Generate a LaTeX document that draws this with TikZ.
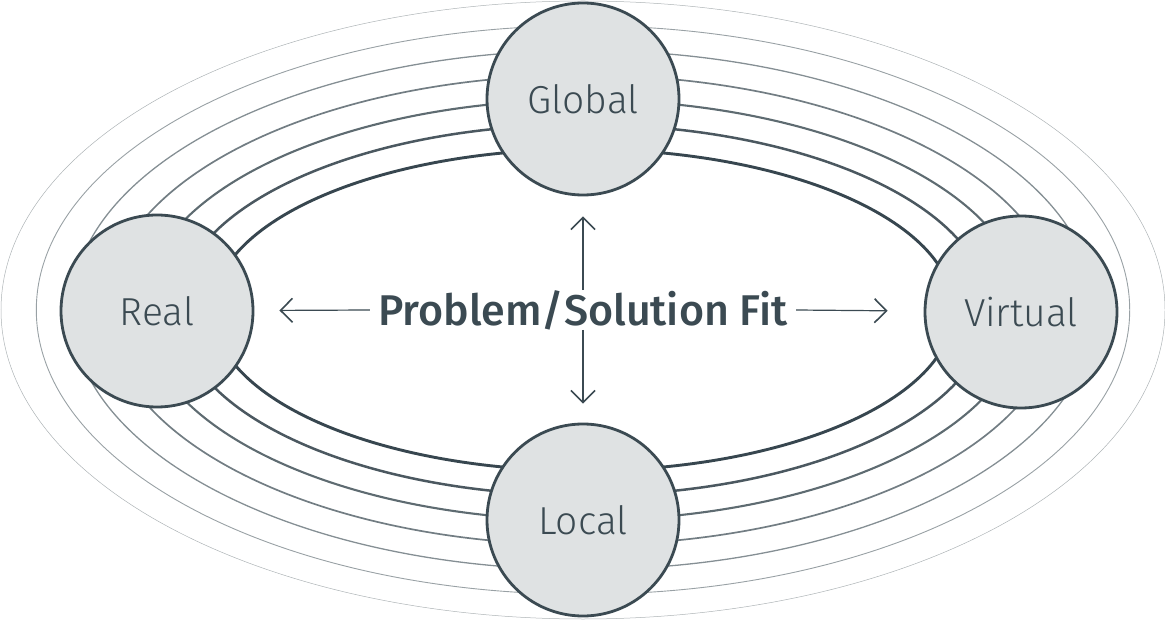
\documentclass[tikz,border=0pt]{standalone}
\usepackage{fontspec}
\setmainfont{Fira Sans}
\newfontfamily\lightfont{Fira Sans Light}
\newfontfamily\mediumfont{Fira Sans Medium}
\usetikzlibrary{arrows.meta}
\definecolor{slate}{HTML}{3B4A52}
\definecolor{disc}{HTML}{DFE2E3}

\begin{document}
\begin{tikzpicture}[x=1pt, y=-1pt,
    place/.style = {draw=slate, fill=disc, circle, line width=2.8pt, minimum size=192pt, inner sep=0pt,
                    text=slate, font=\lightfont\fontsize{39}{41}\selectfont},
    fitarrow/.style = {draw=slate, line width=1.2pt, -{Straight Barb[length=12pt, width=24pt, line width=1.6pt]}}]
\useasboundingbox (0,0) rectangle (1165,620);

% orbits, thin and pale outside, thick and dark inside
\foreach \i in {0,...,6} {
  \pgfmathsetmacro{\pct}{42+10*\i}
  \pgfmathsetmacro{\lw}{0.5+0.4*\i}
  \pgfmathsetmacro{\rx}{582-35.3*\i}
  \pgfmathsetmacro{\ry}{309-24.7*\i}
  \draw[line width=\lw pt, slate!\pct!white] (583,310) ellipse [x radius=\rx, y radius=\ry];
}

\node[place] (global) at (583,99) {Global};
\node[place] (real) at (157,311) {Real};
\node[place] (virtual) at (1021,312) {Virtual};
\node[place] (local) at (583,520) {Local};

\node[text=slate, font=\mediumfont\fontsize{43}{46}\selectfont, minimum width=426pt, minimum height=38pt, inner sep=0pt] (fit) at (583,310) {Problem/Solution Fit};

\draw[fitarrow, shorten >=25pt] (fit.west) -- (real);
\draw[fitarrow, shorten >=36pt] (fit.east) -- (virtual);
\draw[fitarrow, shorten >=20pt] (fit.north) -- (global);
\draw[fitarrow, shorten >=19pt] (fit.south) -- (local);
\end{tikzpicture}
\end{document}
